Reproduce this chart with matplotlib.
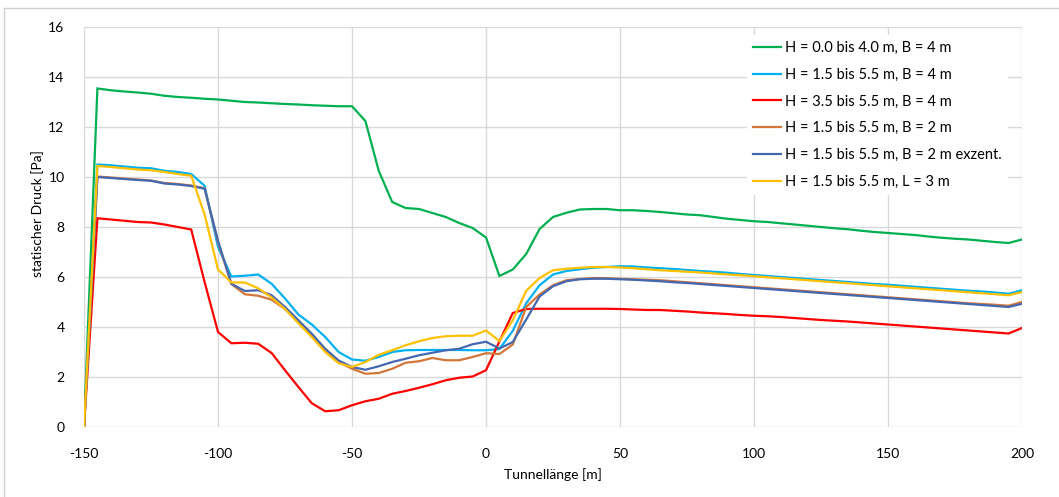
import matplotlib
matplotlib.use("Agg")
import matplotlib.pyplot as plt
from matplotlib.lines import Line2D
import numpy as np

plt.rcParams['font.family'] = ['Lato', 'DejaVu Sans']
plt.rcParams['axes.unicode_minus'] = False

# Tunnellänge in 5 m Schritten
x = np.arange(-150, 205, 5)

green = [0,
         13.54, 13.47, 13.42, 13.38, 13.33, 13.25, 13.2, 13.17, 13.13,
         13.1, 13.05, 13.0, 12.98, 12.95, 12.92, 12.9, 12.87, 12.85, 12.83,
         12.83, 12.24, 10.24, 9.0, 8.76, 8.72, 8.56, 8.4, 8.16, 7.96,
         7.58, 6.04, 6.3, 6.92, 7.92, 8.4, 8.57, 8.7, 8.72, 8.72,
         8.67, 8.67, 8.64, 8.6, 8.55, 8.5, 8.47, 8.4, 8.33, 8.28,
         8.23, 8.2, 8.15, 8.1, 8.05, 8.0, 7.95, 7.91, 7.85, 7.8,
         7.76, 7.72, 7.68, 7.62, 7.57, 7.53, 7.5, 7.45, 7.4, 7.36,
         7.5]
cyan = [0,
        10.5, 10.47, 10.42, 10.37, 10.35, 10.25, 10.2, 10.12, 9.65,
        7.2, 6.02, 6.05, 6.1, 5.73, 5.14, 4.5, 4.1, 3.6, 3.0,
        2.7, 2.65, 2.8, 3.0, 3.07, 3.08, 3.08, 3.08, 3.08, 3.07,
        3.07, 3.12, 3.85, 4.95, 5.67, 6.1, 6.24, 6.31, 6.37, 6.4,
        6.43, 6.42, 6.38, 6.35, 6.32, 6.28, 6.24, 6.21, 6.17, 6.12,
        6.08, 6.04, 6.0, 5.96, 5.92, 5.88, 5.84, 5.8, 5.76, 5.72,
        5.69, 5.65, 5.61, 5.57, 5.53, 5.49, 5.45, 5.42, 5.38, 5.33,
        5.47]
red = [0,
       8.35, 8.3, 8.25, 8.2, 8.18, 8.1, 8.0, 7.9, 5.8,
       3.8, 3.35, 3.37, 3.33, 2.96, 2.27, 1.6, 0.95, 0.63, 0.67,
       0.87, 1.03, 1.13, 1.33, 1.44, 1.57, 1.71, 1.87, 1.97, 2.02,
       2.27, 3.42, 4.56, 4.72, 4.73, 4.73, 4.73, 4.73, 4.73, 4.73,
       4.72, 4.7, 4.68, 4.68, 4.65, 4.62, 4.58, 4.55, 4.52, 4.48,
       4.45, 4.43, 4.4, 4.36, 4.32, 4.28, 4.25, 4.22, 4.18, 4.14,
       4.1, 4.06, 4.02, 3.98, 3.94, 3.9, 3.86, 3.82, 3.78, 3.74,
       3.96]
orange = [0,
          10.02, 9.98, 9.94, 9.9, 9.86, 9.76, 9.72, 9.66, 9.55,
          7.4, 5.72, 5.31, 5.25, 5.09, 4.72, 4.2, 3.65, 3.1, 2.6,
          2.33, 2.13, 2.16, 2.33, 2.57, 2.63, 2.76, 2.67, 2.67, 2.8,
          2.95, 2.92, 3.3, 4.8, 5.3, 5.67, 5.87, 5.92, 5.96, 5.95,
          5.93, 5.91, 5.89, 5.87, 5.83, 5.79, 5.75, 5.71, 5.67, 5.63,
          5.59, 5.55, 5.51, 5.47, 5.43, 5.39, 5.35, 5.31, 5.27, 5.23,
          5.19, 5.15, 5.11, 5.07, 5.03, 4.99, 4.95, 4.92, 4.89, 4.85,
          5.0]
blue = [0,
        10.0, 9.96, 9.92, 9.88, 9.85, 9.74, 9.7, 9.64, 9.53,
        7.45, 5.73, 5.44, 5.47, 5.27, 4.8, 4.27, 3.73, 3.13, 2.66,
        2.4, 2.29, 2.43, 2.6, 2.73, 2.87, 2.97, 3.07, 3.13, 3.31,
        3.41, 3.14, 3.4, 4.3, 5.22, 5.63, 5.83, 5.91, 5.93, 5.93,
        5.91, 5.89, 5.86, 5.83, 5.79, 5.76, 5.72, 5.68, 5.64, 5.6,
        5.56, 5.52, 5.48, 5.44, 5.4, 5.36, 5.32, 5.28, 5.24, 5.2,
        5.16, 5.12, 5.08, 5.04, 5.0, 4.96, 4.92, 4.88, 4.84, 4.8,
        4.93]
yellow = [0,
          10.44, 10.4, 10.35, 10.3, 10.27, 10.2, 10.12, 10.05, 8.5,
          6.3, 5.78, 5.78, 5.55, 5.18, 4.72, 4.15, 3.6, 3.0, 2.55,
          2.4, 2.6, 2.89, 3.07, 3.27, 3.43, 3.56, 3.63, 3.65, 3.65,
          3.86, 3.44, 4.27, 5.45, 5.96, 6.27, 6.33, 6.37, 6.4, 6.4,
          6.38, 6.35, 6.31, 6.27, 6.24, 6.21, 6.18, 6.14, 6.1, 6.07,
          6.03, 5.99, 5.95, 5.91, 5.87, 5.83, 5.79, 5.75, 5.71, 5.67,
          5.63, 5.59, 5.55, 5.51, 5.47, 5.43, 5.39, 5.35, 5.31, 5.27,
          5.4]

labels = ["H = 0.0 bis 4.0 m, B = 4 m",
          "H = 1.5 bis 5.5 m, B = 4 m",
          "H = 3.5 bis 5.5 m, B = 4 m",
          "H = 1.5 bis 5.5 m, B = 2 m",
          "H = 1.5 bis 5.5 m, B = 2 m exzent.",
          "H = 1.5 bis 5.5 m, L = 3 m"]
colors = ["#00B050", "#00B0F0", "#FF0000", "#D2763A", "#4468B0", "#FFC000"]
series = [green, cyan, red, orange, blue, yellow]

fig = plt.figure(figsize=(10.59, 4.97), dpi=100)
ax = fig.add_axes([84 / 1059, 1 - 427 / 497, 938 / 1059, 400 / 497])

for ys, c, lab in zip(series, colors, labels):
    ax.plot(x, ys, color=c, lw=1.6, label=lab, solid_joinstyle='miter')

ax.set_xlim(-150, 200)
ax.set_ylim(0, 16)
ax.set_xticks(np.arange(-150, 201, 50))
ax.set_yticks(np.arange(0, 17, 2))
ax.grid(True, color="#d9d9d9", lw=1.0)
ax.set_axisbelow(True)
for s in ax.spines.values():
    s.set_visible(False)
ax.tick_params(length=0, labelsize=10, colors="#000000")
ax.tick_params(axis='x', pad=15)
ax.tick_params(axis='y', pad=14)

ax.set_xlabel("Tunnellänge [m]", fontsize=10)
ax.xaxis.set_label_coords(0.5, (427 - 475) / 400)
ax.xaxis.label.set_va('center')
ax.set_ylabel("statischer Druck [Pa]", fontsize=10)
ax.yaxis.set_label_coords((38 - 84) / 938, (427 - 214) / 400)
ax.yaxis.label.set_va('center')

leg = ax.legend(loc='upper left', bbox_to_anchor=(747 / 1059, 1 - 35 / 497),
                bbox_transform=fig.transFigure, borderaxespad=0, fontsize=10.5,
                frameon=True, fancybox=False, framealpha=1, edgecolor='none',
                facecolor='white', handlelength=1.95, handletextpad=0.25,
                labelspacing=0.88, borderpad=0.4)

# Rahmen des Diagrammbereichs (oben und links sichtbar)
fig.add_artist(Line2D([4 / 1059, 1.0], [1 - 8 / 497, 1 - 8 / 497],
                      transform=fig.transFigure, color="#d0d0d0", lw=1))
fig.add_artist(Line2D([4 / 1059, 4 / 1059], [0, 1 - 8 / 497],
                      transform=fig.transFigure, color="#d0d0d0", lw=1))

fig.savefig("out.png", dpi=100)
